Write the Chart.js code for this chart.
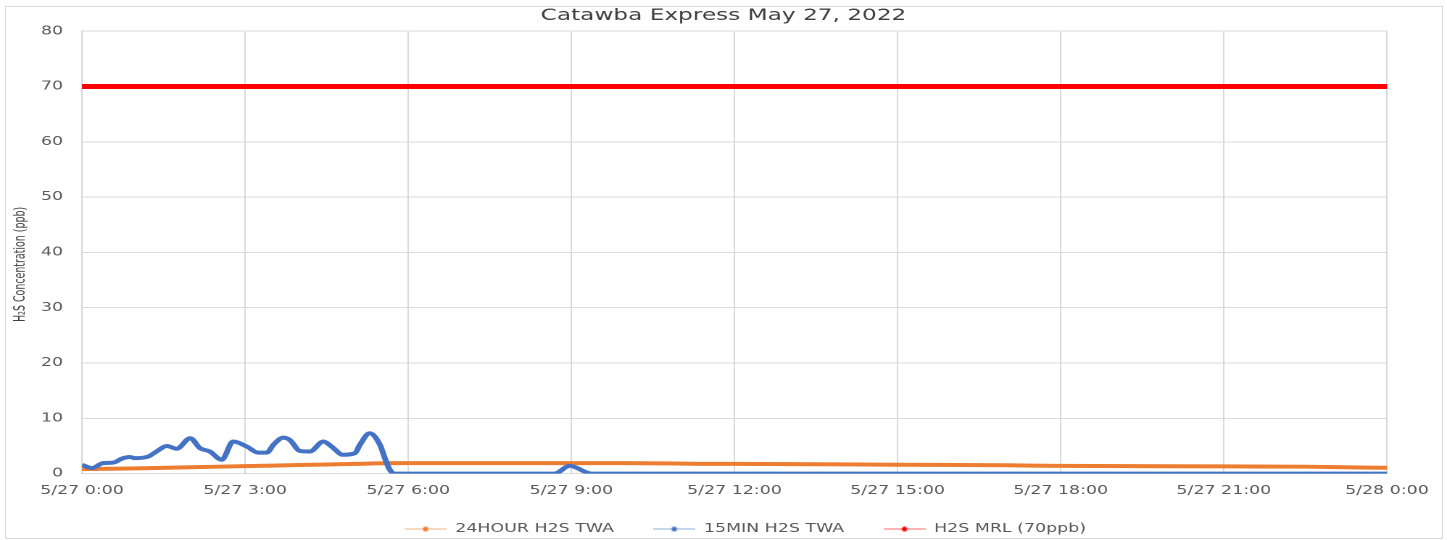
<!DOCTYPE html>
<html>
<head>
<meta charset="utf-8">
<script src="https://cdn.jsdelivr.net/npm/chart.js@4.4.1/dist/chart.umd.min.js"></script>
<style>
  html, body { margin: 0; padding: 0; overflow: hidden; background: #fff; }
  #wrap { position: absolute; left: 0; top: 0; width: 998px; height: 545px; transform: scaleX(1.4499); transform-origin: 0 0; }
  #frame { position: absolute; left: 5px; top: 6px; width: 1436px; height: 531px; border: 1px solid #d9d9d9; pointer-events: none; }
</style>
</head>
<body>
<div id="wrap"><canvas id="chart" width="998" height="545"></canvas></div>
<div id="frame"></div>
<script>
// hours after 5/27 0:00
const twa15Hours = [0, 0.18, 0.39, 0.58, 0.73, 0.88, 0.97, 1.22, 1.37, 1.56, 1.74, 1.99, 2.17, 2.35, 2.57, 2.78,
  3.03, 3.24, 3.4, 3.52, 3.7, 3.82, 4.01, 4.19, 4.44, 4.59, 4.8, 5.02, 5.11, 5.29, 5.48, 5.57, 5.66, 5.75,
  8.69, 8.97, 9.37, 24];
const twa15Values = [1.6, 1.0, 1.9, 2.0, 2.7, 3.0, 2.8, 3.1, 4.0, 5.0, 4.5, 6.4, 4.6, 4.0, 2.5, 5.8,
  4.9, 3.8, 3.8, 5.2, 6.5, 6.1, 4.1, 4.0, 5.8, 4.9, 3.4, 3.7, 5.2, 7.3, 5.2, 2.8, 0.7, 0,
  0, 1.4, 0, 0];

const twa24Hours = [0, 1, 2, 3, 4, 5, 5.75, 6, 8, 10, 10.75, 11.5, 12, 15, 17, 18, 21, 22.5, 23.5, 24];
const twa24Values = [0.8, 0.95, 1.15, 1.35, 1.55, 1.75, 1.9, 1.9, 1.9, 1.9, 1.85, 1.75, 1.75, 1.6, 1.5, 1.4, 1.3, 1.25, 1.1, 1.05];

const mrlHours = [0, 24];
const mrlValues = [70, 70];

const xTicks = [0, 3, 6, 9, 12, 15, 18, 21, 24];
const xTickLabels = ["5/27 0:00", "5/27 3:00", "5/27 6:00", "5/27 9:00", "5/27 12:00", "5/27 15:00", "5/27 18:00", "5/27 21:00", "5/28 0:00"];

const pairs = (xs, ys) => xs.map((x, i) => ({ x: x, y: ys[i] }));

const markerFor = function (color) {
  const c = document.createElement("canvas");
  c.width = 29;
  c.height = 7;
  const g = c.getContext("2d");
  g.globalAlpha = 0.6;
  g.strokeStyle = color;
  g.lineWidth = 1;
  g.beginPath();
  g.moveTo(0, 3.5);
  g.lineTo(29, 3.5);
  g.stroke();
  g.globalAlpha = 1;
  g.fillStyle = color;
  g.beginPath();
  g.ellipse(14.5, 3.5, 1.9, 2.6, 0, 0, Math.PI * 2);
  g.fill();
  return c;
};

// the legend row counts its trailing padding, nudge it back to the middle
const legendShift = {
  id: "legendShift",
  afterLayout: (chart) => {
    chart.legend.left += 15;
    chart.legend.right += 15;
  },
};

const font = "'DejaVu Sans', sans-serif";

new Chart(document.getElementById("chart"), {
  type: "line",
  plugins: [legendShift],
  data: {
    datasets: [
      {
        label: "24HOUR H2S TWA",
        data: pairs(twa24Hours, twa24Values),
        borderColor: "#ED7D31",
        backgroundColor: "#ED7D31",
        borderWidth: 4,
        pointRadius: 0,
        cubicInterpolationMode: "monotone",
        order: 3,
      },
      {
        label: "15MIN H2S TWA",
        data: pairs(twa15Hours, twa15Values),
        borderColor: "#4472C4",
        backgroundColor: "#4472C4",
        borderWidth: 4,
        pointRadius: 0,
        cubicInterpolationMode: "monotone",
        order: 2,
      },
      {
        label: "H2S MRL (70ppb)",
        data: pairs(mrlHours, mrlValues),
        borderColor: "#FF0000",
        backgroundColor: "#FF0000",
        borderWidth: 5,
        borderCapStyle: "round",
        pointRadius: 0,
        order: 1,
      },
    ],
  },
  options: {
    responsive: false,
    animation: false,
    devicePixelRatio: 2,
    layout: { padding: 0 },
    plugins: {
      title: {
        display: true,
        text: "Catawba Express May 27, 2022",
        color: "#404040",
        font: { family: font, size: 16, weight: "normal" },
        padding: { top: 6, bottom: 6 },
      },
      legend: {
        position: "bottom",
        labels: {
          usePointStyle: true,
          pointStyleWidth: 29,
          padding: 27,
          color: "#595959",
          font: { family: font, size: 12 },
          sort: (a, b) => a.datasetIndex - b.datasetIndex,
          generateLabels: (chart) => {
            const items = Chart.defaults.plugins.legend.labels.generateLabels(chart);
            items.forEach((item) => {
              item.pointStyle = markerFor(chart.data.datasets[item.datasetIndex].borderColor);
            });
            return items;
          },
        },
      },
      tooltip: { enabled: false },
    },
    scales: {
      x: {
        type: "linear",
        min: 0,
        max: 24,
        afterBuildTicks: (scale) => {
          scale.ticks = xTicks.map((v) => ({ value: v }));
        },
        afterFit: (scale) => {
          scale.height = 22.4;
        },
        ticks: {
          autoSkip: false,
          maxRotation: 0,
          padding: 10,
          color: "#595959",
          font: { family: font, size: 12 },
          callback: (value) => xTickLabels[xTicks.indexOf(value)],
        },
        grid: { color: "#d9d9d9", drawTicks: false, tickLength: 0 },
        border: { color: "#d9d9d9" },
      },
      y: {
        min: 0,
        max: 80,
        afterFit: (scale) => {
          scale.width = 56.55;
        },
        ticks: {
          stepSize: 10,
          padding: 13,
          color: "#595959",
          font: { family: font, size: 12 },
        },
        grid: { color: "#d9d9d9", drawTicks: false, tickLength: 0 },
        border: { color: "#d9d9d9" },
        title: {
          display: true,
          text: "H₂S Concentration (ppb)        ",
          color: "#404040",
          font: { family: "'DejaVu Sans Condensed', sans-serif", size: 10.5 },
          padding: { top: 8, bottom: 0 },
        },
      },
      // empty right-hand axis keeps the gap to the right of the plot
      yRight: {
        position: "right",
        min: 0,
        max: 80,
        afterFit: (scale) => {
          scale.width = 41.4;
        },
        ticks: { display: false },
        grid: { display: false, drawTicks: false, tickLength: 0 },
        border: { display: false },
      },
    },
  },
});
</script>
</body>
</html>
